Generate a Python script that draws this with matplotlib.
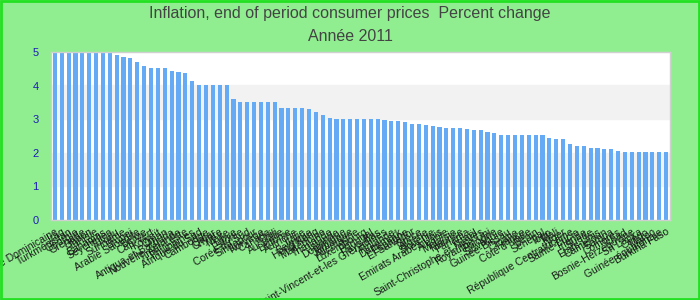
import matplotlib
matplotlib.use("Agg")
import matplotlib.pyplot as plt
from matplotlib.patches import Rectangle

plt.rcParams['font.family'] = ['Liberation Sans', 'DejaVu Sans']

#-------data-------
pays = [
    "République Dominicaine", "Iraq", "Turkménistan", "Géorgie", "Grenade",
    "Gabon", "Tunisie", "Bahamas", "Seychelles", "Tuvalu",
    "Suriname", "Brunei", "Arabie Saoudite", "Belize", "Cap-Vert",
    "Koweït", "Oman", "Antigua-et-Barbuda", "Nouvelle-Zélande", "Timor-Leste",
    "Philippines", "Afrique du Sud", "Cambodge", "Qatar", "Chypre",
    "Malte", "Libye", "Estonie", "Corée du Sud", "Singapour",
    "Norvège", "Canada", "Chili", "Australie", "Lettonie",
    "Autriche", "Italie", "Belgique", "Hong Kong", "Macédoine",
    "Thaïlande", "Islande", "Dominique", "Jamaïque", "Allemagne",
    "Luxembourg", "Portugal", "Pays-Bas", "Saint-Vincent-et-les Grenadines", "Finlande",
    "Danemark", "Espagne", "El Salvador", "Grèce", "Algérie",
    "Slovénie", "Emirats Arabes Unis", "Albanie", "Malaisie", "Maurice",
    "Panama", "Israël", "Saint-Christophe-et-Niévès", "Royaume-Uni", "Pologne",
    "Slovaquie", "Guinée-Bissau", "Croatie", "France", "Côte d'Ivoire",
    "Bénin", "Sénégal", "Togo", "Mali", "Niger",
    "République Centrafricaine", "Sainte-Lucie", "Irlande", "Suède", "Etats-Unis",
    "Cameroun", "Samoa", "Comores", "Tchad", "Bosnie-Herzégovine",
    "Sri Lanka", "Congo", "Maroc", "Guinée équatoriale", "Burkina Faso",
]
inflation = [
    5.0, 5.0, 5.0, 5.0, 5.0, 5.0, 5.0, 5.0, 5.0, 4.9,
    4.84, 4.81, 4.69, 4.57, 4.51, 4.51, 4.51, 4.42, 4.39, 4.37,
    4.13, 4.0, 4.0, 4.0, 4.0, 4.0, 3.59, 3.5, 3.5, 3.5,
    3.5, 3.5, 3.5, 3.32, 3.32, 3.32, 3.32, 3.29, 3.2, 3.12,
    3.03, 3.0, 3.0, 3.0, 3.0, 3.0, 3.0, 3.0, 2.97, 2.94,
    2.94, 2.91, 2.85, 2.85, 2.82, 2.79, 2.76, 2.73, 2.73, 2.73,
    2.7, 2.67, 2.67, 2.61, 2.58, 2.52, 2.52, 2.52, 2.52, 2.52,
    2.52, 2.52, 2.43, 2.4, 2.4, 2.25, 2.19, 2.19, 2.13, 2.13,
    2.1, 2.1, 2.04, 2.01, 2.01, 2.01, 2.01, 2.01, 2.01, 2.01,
]
yticks = [0, 1, 2, 3, 4, 5]
titre = "Inflation, end of period consumer prices  Percent change"
sous_titre = "Année 2011"

#-------graph-------
fig = plt.figure(figsize=(7, 3), dpi=100, facecolor="#90ee90")
ax = fig.add_axes([0.073, 0.267, 0.884, 0.56])
ax.set_facecolor("white")

# alternating bands
for k in range(len(yticks) - 1):
    if k % 2 == 1:
        ax.axhspan(yticks[k], yticks[k + 1], color="#f2f2f2", zorder=0)

x = list(range(len(inflation)))
ax.bar(x, inflation, width=0.6, color="#64aaf4", zorder=2)

ax.set_xlim(-0.55, len(inflation) - 0.45)
ax.set_ylim(0, 5)
ax.set_yticks(yticks)
ax.set_yticklabels([str(t) for t in yticks], color="#1c1cb4", fontsize=8)
ax.tick_params(axis="y", length=0, pad=9)
ax.set_xticks(x)
ax.set_xticklabels(pays, rotation=30, ha="right", rotation_mode="anchor",
                   fontsize=7.5, color="#1a1a1a")
ax.tick_params(axis="x", length=0, pad=5)
for s in ax.spines.values():
    s.set_color("#d0d0d0")
    s.set_linewidth(1)

fig.text(0.5, 0.955, titre, ha="center", va="center", fontsize=11.5, color="#444444")
fig.text(0.5, 0.878, sous_titre, ha="center", va="center", fontsize=11.5, color="#444444")

# green frame around the figure
fig.patches.append(Rectangle((0.0015, 0.003), 0.997, 0.994, transform=fig.transFigure,
                             fill=False, edgecolor="#22e022", linewidth=2))

fig.savefig("out.png", dpi=100, facecolor=fig.get_facecolor())
